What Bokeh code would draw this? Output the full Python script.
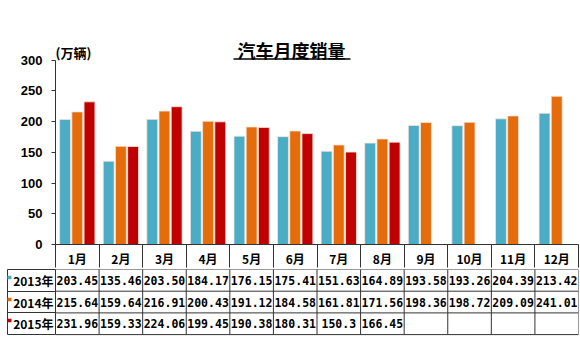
from bokeh.plotting import figure
from bokeh.layouts import column
from bokeh.models import FixedTicker, Label, Range1d, LinearAxis
from bokeh.core.properties import value
from bokeh.embed import file_html
from bokeh.resources import INLINE

months = ["1月", "2月", "3月", "4月", "5月", "6月", "7月", "8月", "9月", "10月", "11月", "12月"]
series_names = ["2013年", "2014年", "2015年"]
sales_2013 = [203.45, 135.46, 203.50, 184.17, 176.15, 175.41, 151.63, 164.89, 193.58, 193.26, 204.39, 213.42]
sales_2014 = [215.64, 159.64, 216.91, 200.43, 191.12, 184.58, 161.81, 171.56, 198.36, 198.72, 209.09, 241.01]
sales_2015 = [231.96, 159.33, 224.06, 199.45, 190.38, 180.31, 150.3, 166.45]
table_text_2013 = ["203.45", "135.46", "203.50", "184.17", "176.15", "175.41", "151.63", "164.89", "193.58", "193.26", "204.39", "213.42"]
table_text_2014 = ["215.64", "159.64", "216.91", "200.43", "191.12", "184.58", "161.81", "171.56", "198.36", "198.72", "209.09", "241.01"]
table_text_2015 = ["231.96", "159.33", "224.06", "199.45", "190.38", "180.31", "150.3", "166.45"]
y_ticks = [0, 50, 100, 150, 200, 250, 300]
colors = ["#4BACC6", "#E46C0A", "#C00000"]

W = 580
LEFT = 55
RIGHT = 2
FRAME_BOTTOM = 246
AXIS_TOP = 60
HEADER_H = 23
LINE = "#333333"
n = len(months)
px_per_unit = (W - LEFT - RIGHT) / n
y_top = 300 * FRAME_BOTTOM / (FRAME_BOTTOM - AXIS_TOP)

p = figure(width=W, height=FRAME_BOTTOM + HEADER_H, output_backend="svg", toolbar_location=None,
           x_range=Range1d(0, n), y_range=Range1d(0, y_top),
           min_border_left=LEFT, min_border_right=RIGHT, min_border_top=0, min_border_bottom=HEADER_H)
p.outline_line_color = None
p.xgrid.visible = False
p.ygrid.visible = False
p.background_fill_color = "white"
p.border_fill_color = "white"

offsets = [-0.28, 0.0, 0.28]
all_series = [sales_2013, sales_2014, sales_2015]
for vals, off, col in zip(all_series, offsets, colors):
    xs = [i + 0.5 + off for i in range(len(vals))]
    p.vbar(x=xs, top=vals, bottom=0, width=0.25, fill_color=col, line_color="#F4E4DC", line_width=0.8)

# y axis
ya = p.yaxis[0]
ya.bounds = (0, 300)
ya.ticker = FixedTicker(ticks=y_ticks)
ya.minor_tick_line_color = None
ya.major_tick_in = 0
ya.major_tick_out = 4
ya.axis_line_color = LINE
ya.major_tick_line_color = LINE
ya.major_label_text_font = "Liberation Sans"
ya.major_label_text_font_style = "bold"
ya.major_label_text_font_size = "13px"
ya.major_label_text_color = "black"
ya.major_label_standoff = 9

# x axis acting as table header row
xa = p.xaxis[0]
xa.ticker = FixedTicker(ticks=[i + 0.5 for i in range(n)], minor_ticks=list(range(n + 1)))
xa.major_label_overrides = {i + 0.5: m for i, m in enumerate(months)}
xa.major_tick_in = 0
xa.major_tick_out = 0
xa.minor_tick_in = 0
xa.minor_tick_out = HEADER_H
xa.minor_tick_line_color = LINE
xa.axis_line_color = LINE
xa.major_label_standoff = 5 - HEADER_H
xa.major_label_text_font = "Noto Sans CJK SC"
xa.major_label_text_font_style = "bold"
xa.major_label_text_font_size = "12px"
xa.major_label_text_color = "black"

def ypx(py):
    return 300 * (FRAME_BOTTOM - py) / (FRAME_BOTTOM - AXIS_TOP)

def xpx(px):
    return (px - LEFT) / px_per_unit

p.add_layout(Label(x=xpx(291), y=ypx(50), text="汽车月度销量",
                   text_align="center", text_baseline="middle", text_font="Noto Sans CJK SC",
                   text_font_style="bold", text_font_size="18px", text_color="black"))
p.segment(x0=[xpx(233)], x1=[xpx(350)], y0=[ypx(59)], y1=[ypx(59)], line_color="black", line_width=1.3)
p.add_layout(Label(x=xpx(55), y=ypx(52), text="(万辆)",
                   text_align="left", text_baseline="middle", text_font="Noto Sans CJK SC",
                   text_font_style="bold", text_font_size="13px", text_color="black"))

# table figure
TH = 351 - (FRAME_BOTTOM + HEADER_H)
row_h = 21.7
n_rows = 3
y_start = -(TH - n_rows * row_h) / row_h
LABEL_W = LEFT - 7

t = figure(width=W, height=TH, output_backend="svg", toolbar_location=None,
           x_range=Range1d(0, n), y_range=Range1d(y_start, n_rows),
           x_axis_location=None,
           min_border_left=LEFT, min_border_right=RIGHT, min_border_top=0, min_border_bottom=0)
t.grid.visible = False
t.outline_line_color = None
t.border_fill_color = "white"

row_centers = [n_rows - r - 0.5 for r in range(n_rows)]

# inner axis: row separators of the label column (exactly LABEL_W wide)
ta = t.yaxis[0]
ta.bounds = (0, n_rows)
ta.ticker = FixedTicker(ticks=[], minor_ticks=list(range(n_rows + 1)))
ta.major_tick_in = 0
ta.major_tick_out = 0
ta.minor_tick_in = 0
ta.minor_tick_out = LABEL_W
ta.minor_tick_line_color = LINE
ta.axis_line_color = LINE
ta.major_label_standoff = 0
ta.major_label_text_font_size = "0px"

# outer left border of the label column
edge = LinearAxis(bounds=(0, n_rows), ticker=FixedTicker(ticks=[]), major_tick_out=0, major_tick_in=0,
                  minor_tick_out=0, minor_tick_in=0, major_label_standoff=0,
                  axis_line_color=LINE, major_label_text_font_size="0px")
t.add_layout(edge, "left")

# small colour keys in front of the row labels
for yc, col in zip(row_centers, colors):
    ky = yc + 3 / row_h
    key = LinearAxis(ticker=FixedTicker(ticks=[ky]), major_label_overrides={ky: ""},
                     major_tick_out=0, major_tick_in=4, minor_tick_out=0, minor_tick_in=0,
                     major_label_standoff=0, major_label_text_font_size="0px",
                     axis_line_color=None, major_tick_line_color=col, major_tick_line_width=3.5)
    t.add_layout(key, "left")

# row labels, pulled back inside the label column
lab = LinearAxis(ticker=FixedTicker(ticks=row_centers),
                 major_label_overrides={yc: s for yc, s in zip(row_centers, series_names)},
                 major_tick_out=0, major_tick_in=0, minor_tick_out=0, minor_tick_in=0,
                 axis_line_color=None, major_tick_line_color=None, minor_tick_line_color=None,
                 major_label_standoff=2 - LABEL_W, major_label_text_font="Noto Sans CJK SC",
                 major_label_text_font_style="bold", major_label_text_font_size="12px",
                 major_label_text_color="black")
t.add_layout(lab, "left")

t.segment(x0=[0] * (n_rows + 1), x1=[n] * (n_rows + 1), y0=list(range(n_rows + 1)), y1=list(range(n_rows + 1)),
          line_color=LINE, line_width=1)
vx = list(range(n + 1))
t.segment(x0=vx, x1=vx, y0=[0] * len(vx), y1=[n_rows] * len(vx), line_color=LINE, line_width=1)

texts = [table_text_2013, table_text_2014, table_text_2015]
for yc, tv in zip(row_centers, texts):
    t.text(x=[i + 0.5 for i in range(len(tv))], y=[yc] * len(tv), text=tv, text_align="center",
           text_baseline="middle", text_font=value("DejaVu Sans Mono"), text_font_style="bold",
           text_font_size="11.5px", text_color="black")

layout = column(p, t, spacing=0)
open("out.html", "w").write(file_html(layout, INLINE))
